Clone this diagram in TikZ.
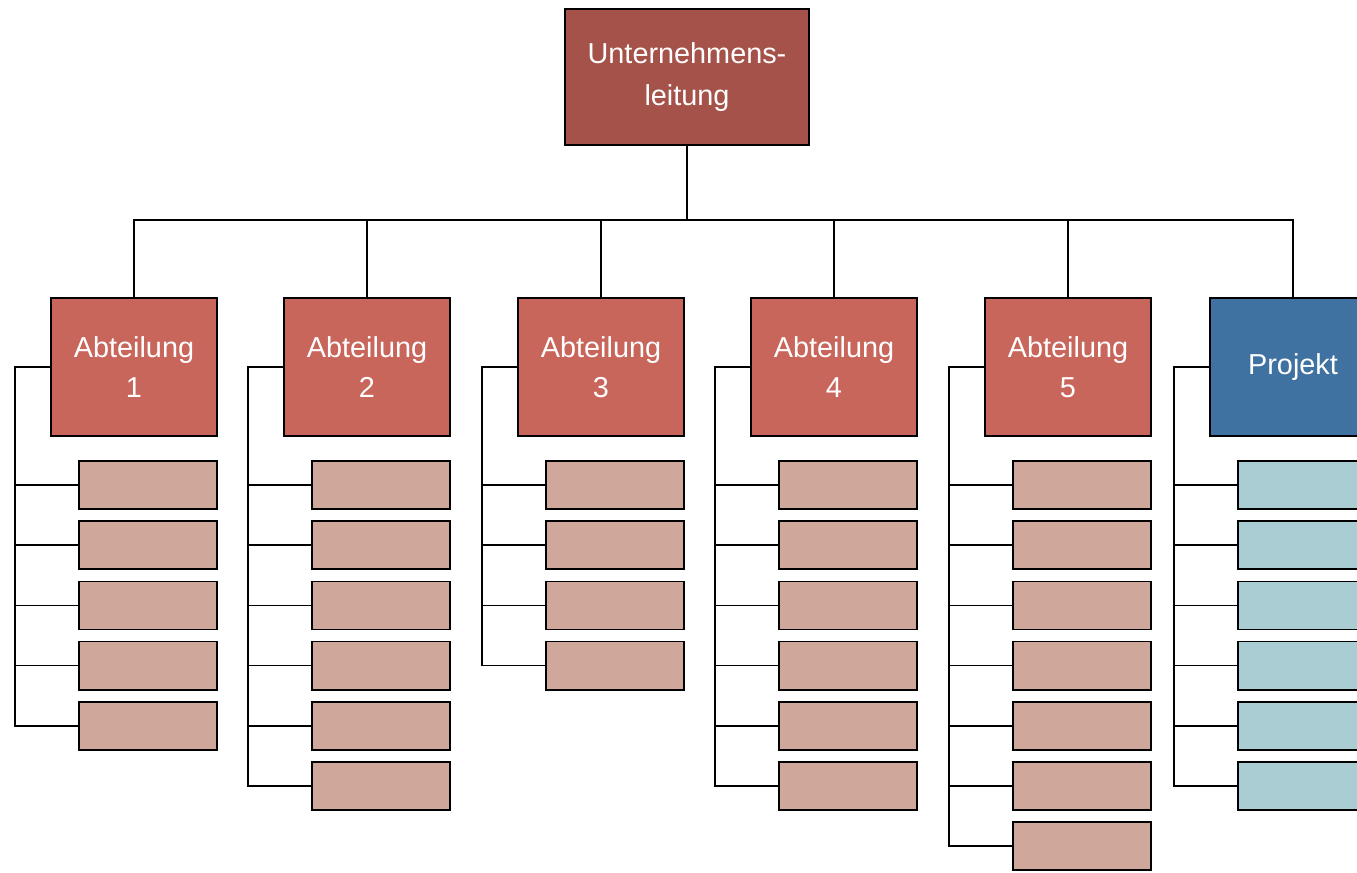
\documentclass[tikz,border=0pt]{standalone}
\usepackage{fontspec}
\setmainfont{Liberation Sans}
\definecolor{leitungred}{HTML}{A5524A}
\definecolor{abtred}{HTML}{C9665C}
\definecolor{stellered}{HTML}{CFA89B}
\definecolor{projblue}{HTML}{3F72A1}
\definecolor{projcyan}{HTML}{AACDD3}
\tikzset{
  box/.style={draw=black, line width=0.5pt, inner sep=0pt},
  leitungbox/.style={box, fill=leitungred, text=white, minimum width=2.44cm,
    minimum height=1.36cm, align=center, font=\fontsize{8.2}{12}\selectfont},
  abtbox/.style={box, fill=abtred, text=white, minimum width=1.66cm,
    minimum height=1.38cm, align=center, font=\fontsize{8.2}{11.5}\selectfont},
  projbox/.style={abtbox, fill=projblue},
  stellebox/.style={box, fill=stellered, minimum width=1.38cm, minimum height=0.48cm},
  projstelle/.style={stellebox, fill=projcyan}
}
\begin{document}
\begin{tikzpicture}[x=0.01cm, y=-0.01cm, line width=0.5pt]
\path[use as bounding box] (0,0) rectangle (1357,872);
\clip (0,0) rectangle (1357,872);
\node[leitungbox] (leitung) at (687,77) {Unternehmens-\\leitung};
\coordinate (bus) at (687,220);
\draw (leitung.south) -- (bus);
\foreach \i/\x/\n in {1/134/5, 2/367/6, 3/601/4, 4/834/6, 5/1068/7}
    {
    \node[abtbox] (abt\i) at (\x,367) {Abteilung\\\i};
    \foreach \k in {1,...,\n}
        \node[stellebox] (stelle\i-\k) at ({\x+14},{485+60.2*(\k-1)}) {};
    \draw (abt\i.west) -- ++(-35,0) |- (stelle\i-\n.west);
    \foreach \k in {1,...,\n}
        \draw (stelle\i-\k.west) -- ++(-63,0);
    }
\node[projbox] (proj) at (1293,367) {Projekt};
\foreach \k in {1,...,6}
    \node[projstelle] (pstelle-\k) at ({1293+14},{485+60.2*(\k-1)}) {};
\draw (proj.west) -- ++(-35,0) |- (pstelle-6.west);
\foreach \k in {1,...,6}
    \draw (pstelle-\k.west) -- ++(-63,0);
\draw (abt1.north) |- (proj.north |- bus) -- (proj.north);
\foreach \i in {2,...,5}
    \draw (abt\i.north) -- (abt\i.north |- bus);
\end{tikzpicture}
\end{document}
